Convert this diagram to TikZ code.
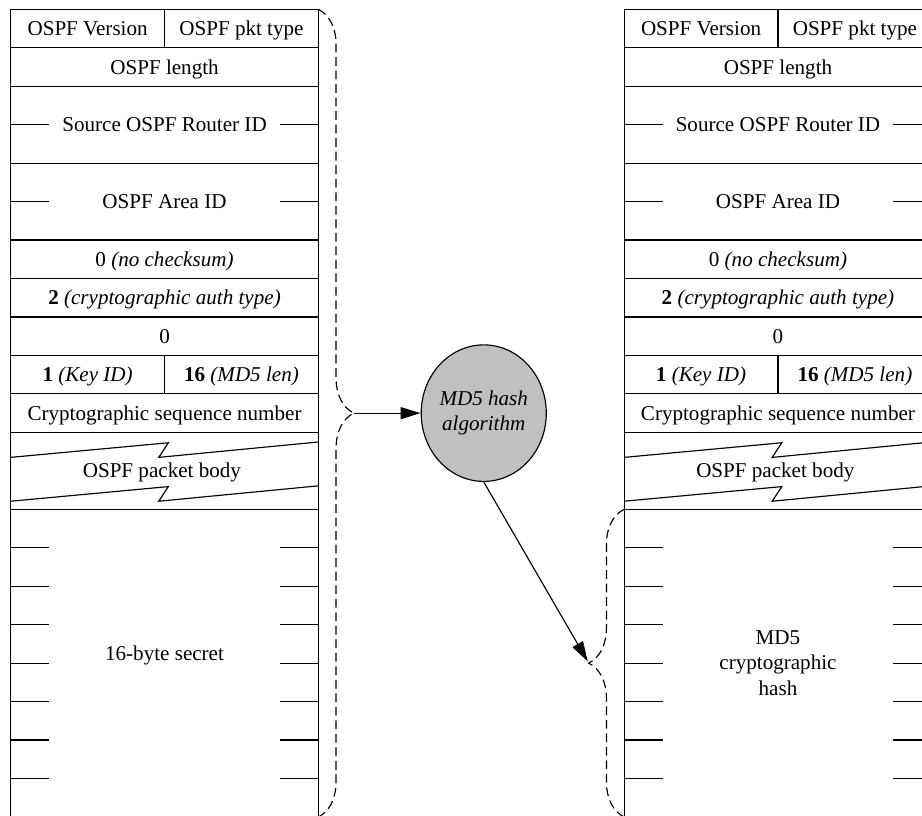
\documentclass[tikz,border=0pt]{standalone}
\usepackage{fontspec}
\setmainfont{Liberation Serif}
\usetikzlibrary{shapes.geometric,arrows.meta,decorations.pathreplacing}
\definecolor{hashgray}{RGB}{192,192,192}
\tikzset{
	field/.style={font=\fontsize{15.6}{18.8}\selectfont, inner sep=0pt, align=center},
	cell/.style={field, text height=10.5pt, text depth=0pt},
	hashnode/.style={field, font=\fontsize{15.6}{18.8}\selectfont\itshape, ellipse, draw, fill=hashgray, minimum width=3.18cm, minimum height=3.55cm},
	braceline/.style={dashed, dash pattern=on 6.5pt off 3.5pt, decorate, decoration={brace, amplitude=0.92cm}},
	flow/.style={-{Triangle[length=5.2mm, width=3.1mm]}}
}
\begin{document}
\begin{tikzpicture}[line width=0.85pt]
		\useasboundingbox (-0.278,0.242) rectangle (23.695,-20.95);
		\clip (-0.278,0.242) rectangle (23.695,-20.95);
		\foreach \ox in {0,15.95}{
		\draw[xshift=\ox cm] (0,0) rectangle (8,-21);
		\foreach \y in {-1,-2,-4,-6,-7,-8,-9,-10,-11,-13}
		\draw[xshift=\ox cm] (0,\y) -- (8,\y);
		\draw[xshift=\ox cm] (4,0) -- (4,-1) (4,-9) -- (4,-10);
		\foreach \y in {-3,-5,-14,-15,-16,-17,-18,-19,-20}
		\draw[xshift=\ox cm] (0,\y) -- (1,\y) (7,\y) -- (8,\y);
		\draw[xshift=\ox cm] (0,-11.65) -- (4.1,-11.27) -- (3.85,-11.65) -- (8,-11.25);
		\draw[xshift=\ox cm] (0,-12.79) -- (4.1,-12.41) -- (3.85,-12.79) -- (8,-12.39);
		}
		\foreach \pos/\txt [count=\ri] in {
			{2,-0.5}/{OSPF Version},
			{6,-0.5}/{OSPF pkt type},
			{4,-1.5}/{OSPF length},
			{4,-3}/{Source OSPF Router ID},
			{4,-5}/{OSPF Area ID},
			{4,-6.5}/{0 \textit{(no checksum)}},
			{4,-7.5}/{\textbf{2} \textit{(cryptographic auth type)}},
			{4,-8.5}/{0},
			{2,-9.5}/{\textbf{1} \textit{(Key ID)}},
			{6,-9.5}/{\textbf{16} \textit{(MD5 len)}},
			{4,-10.5}/{Cryptographic sequence number},
			{4,-12}/{OSPF packet body}
		}{
		\node[cell] (src\ri) at (\pos) {\txt};
		\node[cell, xshift=15.95cm] (dst\ri) at (\pos) {\txt};
		}
		\node[cell] (secret) at (4,-16.75) {16-byte secret};
		\node[field] (hash) at (19.95,-17) {MD5\\cryptographic\\hash};
		\coordinate (ltop) at (8,0);
		\coordinate (lbot) at (8,-21);
		\coordinate (ltip) at (8.92,-10.5);
		\coordinate (rtop) at (15.95,-13);
		\coordinate (rbot) at (15.95,-21);
		\coordinate (rtip) at (15.03,-17);
		\draw[braceline] (ltop) -- (lbot);
		\draw[braceline] (rbot) -- (rtop);
		\node[hashnode] (md5) at (12.3,-10.5) {MD5 hash\\algorithm};
		\draw[flow] (ltip) -- (md5);
		\draw[flow, shorten >=1.5pt] (md5.south) -- (rtip);
		\end{tikzpicture}
\end{document}
